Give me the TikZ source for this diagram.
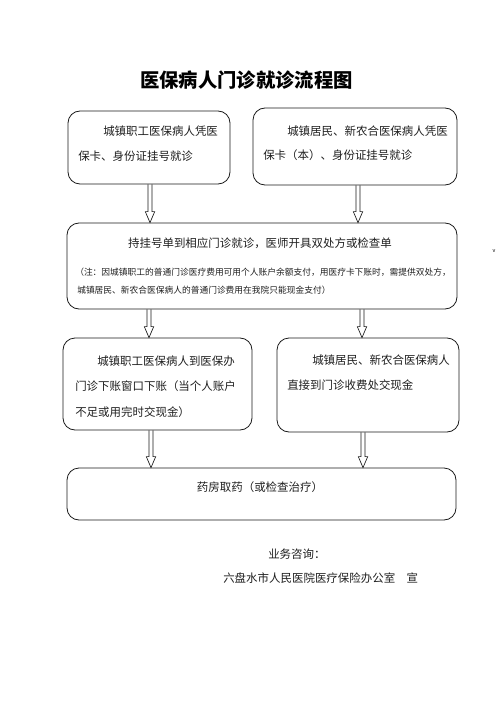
\documentclass[tikz,border=0pt]{standalone}
\usepackage{fontspec}
\usepackage{tikz}
\usetikzlibrary{calc}
\setmainfont{Noto Sans CJK SC}
\definecolor{FlowLine}{HTML}{1A1A1A}
\definecolor{FlowText}{HTML}{1E1E1E}
\tikzset{
  flowbox/.style={draw=FlowLine,line width=0.6pt,rounded corners=9pt,inner sep=0pt},
  flowtext/.style={inner sep=0pt,text=FlowText,font=\fontsize{8.6pt}{10pt}\selectfont},
  notetext/.style={inner sep=0pt,text=FlowText,font=\fontsize{6.55pt}{8pt}\selectfont},
  arrowline/.style={draw=FlowLine,line width=0.5pt,line join=miter}
}
\newcommand\hollowarrow[3]{%
  \path (#1,0 |- #2.south) coordinate (ha) (#1,0 |- #3.north) coordinate (hb);
  \draw[arrowline] ($(ha)+(-2,0)$) -- ($(hb)+(-2,-11)$) -- ($(hb)+(-4.7,-11)$) -- (hb)
    -- ($(hb)+(4.7,-11)$) -- ($(hb)+(2,-11)$) -- ($(ha)+(2,0)$);}
\begin{document}
\begin{tikzpicture}[x=0.75pt,y=-0.75pt]
\path[use as bounding box] (0,0) rectangle (496,702);
% title
\node[inner sep=0pt,font=\fontsize{14.5pt}{16pt}\selectfont\bfseries] (title) at (246.5,80) {医保病人门诊就诊流程图};
% boxes
\node[flowbox,minimum width=121.5pt,minimum height=54.75pt] (b1) at (149,147.5) {};
\node[flowbox,minimum width=153pt,minimum height=57.75pt] (b2) at (355,146.5) {};
\node[flowbox,minimum width=292.5pt,minimum height=64.5pt] (b3) at (262,266) {};
\node[flowbox,minimum width=141.75pt,minimum height=69pt] (b4) at (157.5,384) {};
\node[flowbox,minimum width=136.5pt,minimum height=70.5pt] (b5) at (368,385) {};
\node[flowbox,minimum width=291.75pt,minimum height=39pt] (b6) at (261.5,494) {};
% box texts
\node[flowtext,anchor=west] (t1a) at (103,131) {城镇职工医保病人凭医};
\node[flowtext,anchor=west] (t1b) at (78,156) {保卡、身份证挂号就诊};
\node[flowtext,anchor=west] (t2a) at (287,131) {城镇居民、新农合医保病人凭医};
\node[flowtext,anchor=west] (t2b) at (263,155) {保卡（本）、身份证挂号就诊};
\node[flowtext] (t3a) at (260,243) {持挂号单到相应门诊就诊，医师开具双处方或检查单};
\node[notetext,anchor=west] (t3b) at (75,272) {（注：因城镇职工的普通门诊医疗费用可用个人账户余额支付，用医疗卡下账时，需提供双处方，};
\node[notetext,anchor=west] (t3c) at (77,290) {城镇居民、新农合医保病人的普通门诊费用在我院只能现金支付）};
\node[flowtext,anchor=west] (t4a) at (97,361) {城镇职工医保病人到医保办};
\node[flowtext,anchor=west] (t4b) at (75,386) {门诊下账窗口下账（当个人账户};
\node[flowtext,anchor=west] (t4c) at (75,412) {不足或用完时交现金）};
\node[flowtext,anchor=west] (t5a) at (312,360) {城镇居民、新农合医保病人};
\node[flowtext,anchor=west] (t5b) at (287,385) {直接到门诊收费处交现金};
\node[flowtext] (t6) at (260,487) {药房取药（或检查治疗）};
% arrows
\hollowarrow{150}{b1}{b3}
\hollowarrow{358}{b2}{b3}
\hollowarrow{149}{b3}{b4}
\hollowarrow{362}{b3}{b5}
\hollowarrow{151}{b4}{b6}
\hollowarrow{363}{b5}{b6}
% footer
\node[flowtext,anchor=west] (f1) at (268,554) {业务咨询：};
\node[flowtext,anchor=west] (f2) at (223,578) {六盘水市人民医院医疗保险办公室\quad 宣};
\node[inner sep=0pt,font=\fontsize{4pt}{4pt}\selectfont] (mark) at (494,251) {v};
\end{tikzpicture}
\end{document}
